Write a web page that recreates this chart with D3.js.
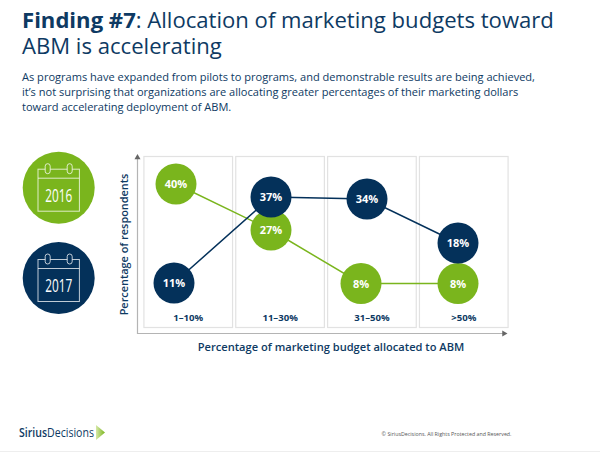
<!DOCTYPE html>
<html><head><meta charset="utf-8">
<script src="https://cdnjs.cloudflare.com/ajax/libs/d3/7.9.0/d3.min.js"></script>
<style>html,body{margin:0;padding:0;background:#fff}svg{display:block}text{font-family:"Open Sans",sans-serif}</style>
</head><body><svg id="c" width="600" height="452"></svg>
<script>
const categories = ["1–10%", "11–30%", "31–50%", ">50%"];
const values2016 = [40, 27, 8, 8];
const values2017 = [11, 37, 34, 18];
const yLevels = [8, 11, 18, 27, 34, 37, 40];
const titleBold = "Finding #7";
const titleLines = [": Allocation of marketing budgets toward", "ABM is accelerating"];
const bodyLines = [
 "As programs have expanded from pilots to programs, and demonstrable results are being achieved,",
 "it’s not surprising that organizations are allocating greater percentages of their marketing dollars",
 "toward accelerating deployment of ABM."];
const yTitle = "Percentage of respondents";
const xTitle = "Percentage of marketing budget allocated to ABM";
const footerNote = "© SiriusDecisions. All Rights Protected and Reserved.";

const NAVY = "#04315a", GREEN = "#7ab51d", INK = "#0e3a63";
const svg = d3.select("#c");

// Header
const t = svg.append("text").attr("x", 22).attr("y", 27.5).attr("font-size", 22.1).attr("fill", INK);
t.append("tspan").attr("font-weight", 700).text(titleBold);
t.append("tspan").text(titleLines[0]);
svg.append("text").attr("x", 22).attr("y", 53.5).attr("font-size", 22.1).attr("fill", INK).text(titleLines[1]);
svg.selectAll("text.body").data(bodyLines).join("text").attr("class", "body")
  .attr("x", 22).attr("y", (d, i) => 81 + i * 15).attr("font-size", 11.05).attr("fill", INK).text(d => d);

// Scales: panels are even; the marks in the source sit off-centre and its vertical placement is hand-set
const panel = d3.scaleBand().domain(categories).range([143, 509]).paddingInner(0.035).paddingOuter(0.01);
const x2016 = d3.scaleOrdinal().domain(categories).range([176, 271, 361, 458]);
const x2017 = d3.scaleOrdinal().domain(categories).range([174, 271, 367, 458]);
const y = d3.scaleLinear().domain(yLevels).range([283.5, 283, 243, 230, 199, 197, 184]);

// Panels
svg.selectAll("rect.panel").data(categories).join("rect").attr("class", "panel")
  .attr("x", d => panel(d)).attr("y", 156.5).attr("width", panel.bandwidth()).attr("height", 171)
  .attr("fill", "#fff").attr("stroke", "#e2e2e2").attr("stroke-width", 1.2);

// Axes
const axisColor = "#b4b4b4";
svg.append("path").attr("d", d3.line()([[137.5, 158], [137.5, 333.5], [503, 333.5]]))
  .attr("fill", "none").attr("stroke", axisColor).attr("stroke-width", 1.2);
svg.append("path").attr("d", d3.symbol(d3.symbolTriangle, 16)()).attr("transform", "translate(137.5,157.5)").attr("fill", "#666");
svg.append("path").attr("d", d3.symbol(d3.symbolTriangle, 16)()).attr("transform", "translate(504,333.5) rotate(90)").attr("fill", "#666");

const ax = svg.append("g").attr("transform", "translate(0,311.5)").call(d3.axisBottom(panel).tickSize(0).tickPadding(3));
ax.select(".domain").remove();
ax.selectAll("text").attr("font-family", "'Open Sans',sans-serif").attr("font-size", 9.6).attr("font-weight", 700).attr("fill", INK);

svg.append("text").attr("transform", "translate(127.5,244.5) rotate(-90)").attr("text-anchor", "middle")
  .attr("font-size", 10.9).attr("font-weight", 600).attr("fill", INK).text(yTitle);
svg.append("text").attr("x", 331).attr("y", 351).attr("text-anchor", "middle")
  .attr("font-size", 11.1).attr("font-weight", 600).attr("fill", INK).text(xTitle);

// Series
function series(vals, xs, color) {
  const g = svg.append("g");
  g.append("path").datum(vals)
    .attr("d", d3.line().x((d, i) => xs(categories[i])).y(d => y(d)))
    .attr("fill", "none").attr("stroke", color).attr("stroke-width", 1.5);
  return g;
}
function dots(g, vals, xs, color) {
  g.selectAll("circle").data(vals).join("circle")
    .attr("cx", (d, i) => xs(categories[i])).attr("cy", d => y(d)).attr("r", 20.5).attr("fill", color);
  g.selectAll("text").data(vals).join("text")
    .attr("x", (d, i) => xs(categories[i])).attr("y", d => y(d) + 4)
    .attr("text-anchor", "middle").attr("font-size", 11).attr("font-weight", 700).attr("fill", "#fff").text(d => d + "%");
}
const gGreen = series(values2016, x2016, GREEN);
const gNavy = series(values2017, x2017, NAVY);
dots(gGreen, values2016, x2016, GREEN);
dots(gNavy, values2017, x2017, NAVY);

// Year icons
function icon(cy, color, label) {
  const cx = 58.7, g = svg.append("g");
  g.append("circle").attr("cx", cx).attr("cy", cy).attr("r", 36).attr("fill", color);
  const s = "rgba(255,255,255,0.75)";
  g.append("rect").attr("x", cx - 20.7).attr("y", cy - 18.5).attr("width", 41.4).attr("height", 42)
    .attr("fill", "none").attr("stroke", s);
  g.append("line").attr("x1", cx - 20.7).attr("x2", cx + 20.7).attr("y1", cy - 9.5).attr("y2", cy - 9.5).attr("stroke", s);
  [-11, 11].forEach(dx => g.append("rect").attr("x", cx + dx - 2.5).attr("y", cy - 24).attr("width", 5).attr("height", 10).attr("rx", 2.5)
    .attr("fill", color).attr("stroke", s));
  g.append("text").attr("x", cx).attr("y", cy + 14).attr("text-anchor", "middle").attr("fill", "#fff")
    .style("font-family", "'Liberation Sans Narrow','Open Sans',sans-serif")
    .attr("font-size", 18).attr("textLength", 27).attr("lengthAdjust", "spacingAndGlyphs").text(label);
}
icon(187.7, GREEN, "2016");
icon(278, NAVY, "2017");

// Footer
const logo = svg.append("text").attr("x", 19).attr("y", 437).attr("font-size", 12.5).attr("fill", INK)
  .attr("textLength", 75).attr("lengthAdjust", "spacingAndGlyphs");
logo.append("tspan").attr("font-weight", 600).text("Sirius");
logo.append("tspan").text("Decisions");
const defs = svg.append("defs").append("linearGradient").attr("id", "lg");
defs.append("stop").attr("offset", "0").attr("stop-color", "#d6e8a8");
defs.append("stop").attr("offset", "1").attr("stop-color", "#7ab51d");
svg.append("path").attr("d", "M96,425L105,432.5L96,440Z").attr("fill", "url(#lg)");
svg.append("text").attr("x", 511.5).attr("y", 436).attr("text-anchor", "end").attr("font-size", 5.3).attr("fill", "#555").text(footerNote);
svg.append("line").attr("x1", 0).attr("x2", 600).attr("y1", 451.5).attr("y2", 451.5).attr("stroke", "#eee");
</script></body></html>
